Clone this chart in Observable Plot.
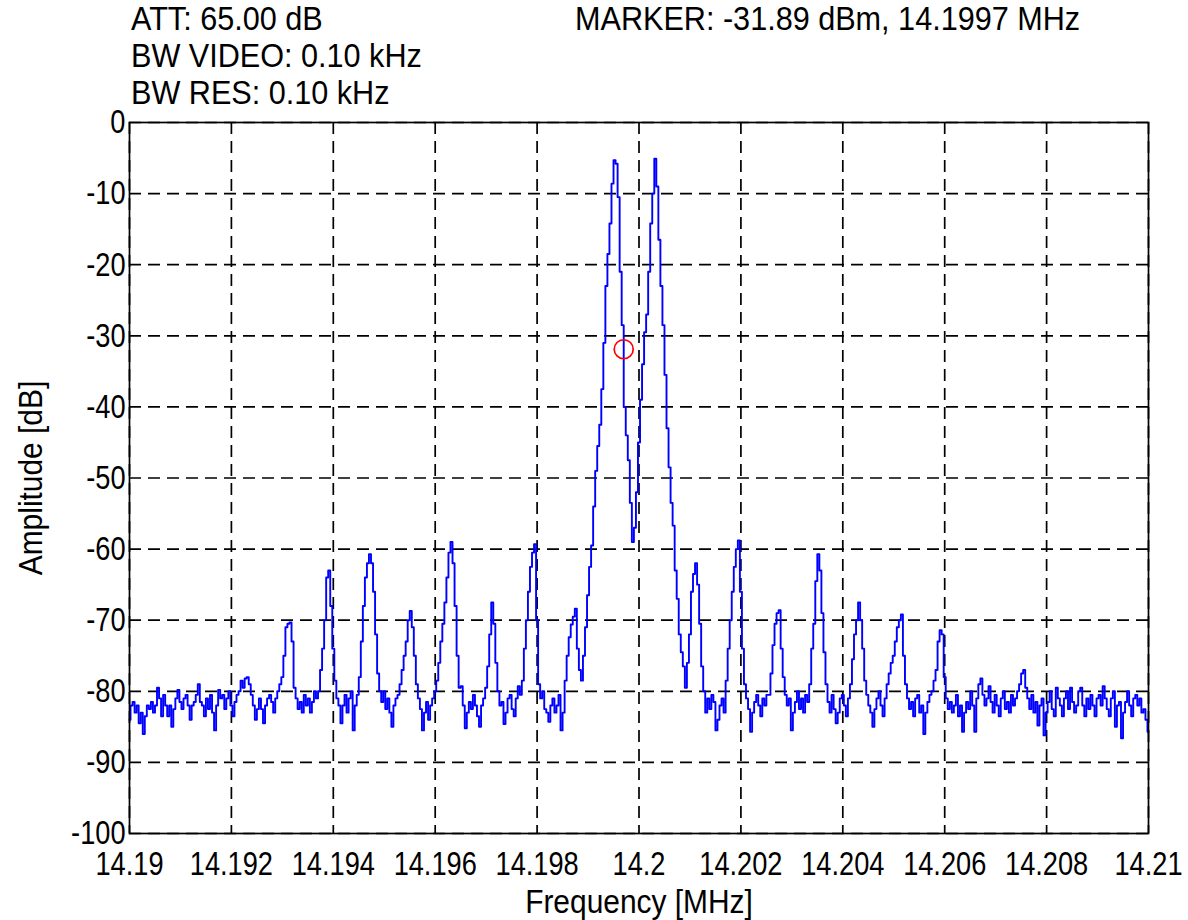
<!DOCTYPE html>
<html><head><meta charset="utf-8">
<script src="https://cdn.jsdelivr.net/npm/d3@7"></script>
<script src="https://cdn.jsdelivr.net/npm/@observablehq/plot@0.6"></script>
<style>
html,body{margin:0;padding:0;background:#fff;}
#wrap{position:relative;width:1188px;height:920px;overflow:hidden;font-family:'Liberation Sans',Arial,sans-serif;}
#chart{position:absolute;left:0;top:0;}
.hdr{position:absolute;font-size:34px;line-height:34px;color:#000;white-space:nowrap;transform:scaleX(0.9);transform-origin:0 0;}
</style></head><body>
<div id="wrap"><div id="chart"></div></div>
<script>
// ---- data ----
const headerLines = ["ATT: 65.00 dB", "BW VIDEO: 0.10 kHz", "BW RES: 0.10 kHz"];
const markerFreq = 14.1997;   // MHz
const markerAmp = -31.89;     // dBm
const xTicks = [14.19, 14.192, 14.194, 14.196, 14.198, 14.2, 14.202, 14.204, 14.206, 14.208, 14.21];
const yTicks = [-100, -90, -80, -70, -60, -50, -40, -30, -20, -10, 0];
const fStart = 14.19;   // MHz, first sample
const fStep = 0.00004;  // MHz between samples
const amplitudes = [
  -84, -82, -81.5, -83, -82, -84.5, -83, -86, -83.5, -82,
  -82.5, -81.5, -83, -82, -79.5, -81, -83.5, -80.5, -82, -83.5,
  -82, -85, -82.5, -81, -79.8, -81.5, -82.5, -81, -80.5, -82,
  -84, -82, -81.5, -80.5, -79, -81.5, -82, -83.5, -81, -82.5,
  -80.5, -83, -85.5, -82, -79.8, -81, -80.5, -82.5, -81, -80,
  -82, -83.5, -81.5, -80.5, -80, -78.5, -79.5, -78.2, -78, -79,
  -80.5, -82, -84, -82.5, -81, -82.5, -84.5, -82, -81, -80.5,
  -81.5, -83, -81, -80, -79, -78, -75, -71, -70.5, -70.3,
  -73, -79.5, -81, -82.5, -81.5, -83, -80.5, -82, -81, -83,
  -81.5, -80, -81, -80, -77, -74, -70, -64, -63, -68,
  -74, -78.5, -81, -82, -84.5, -82, -80.5, -83, -81, -80,
  -85.5, -82, -80.5, -78, -73, -68, -64, -62, -60.7, -62,
  -66, -72, -77.5, -80, -81.5, -80, -82.5, -81, -83, -85,
  -82, -81, -80.5, -79, -77, -75, -73, -70, -68.7, -71,
  -75, -79, -81, -82.5, -85.5, -83, -81.5, -84, -82, -81,
  -80, -78.5, -76, -73, -70.5, -67.5, -64, -60.5, -59, -62,
  -68, -75, -79.5, -79.3, -82, -85.2, -83, -81.5, -82.5, -80.5,
  -82, -83.5, -85, -82, -81, -79.5, -76.5, -72, -67.5, -70.5,
  -76, -80, -82, -81.5, -84.6, -83, -81, -80.5, -82.5, -83.5,
  -81, -79.3, -80.5, -78.5, -74, -70, -66, -62.5, -60.5, -59.3,
  -70, -79, -81, -80, -82.5, -83, -84.3, -82, -81, -83,
  -82, -80.5, -85.5, -83, -78.5, -75, -72.4, -70.6, -69.5, -68.4,
  -74, -77, -78.5, -75, -71, -66.5, -62.5, -59.5, -54, -49,
  -45.5, -42.5, -37.5, -31, -23, -18.5, -14.2, -8.6, -5.3, -5.8,
  -10.5, -21, -28.5, -40, -44, -47.5, -53.5, -59, -57, -52,
  -45, -39, -34, -29.5, -27, -21, -14.2, -10, -5.1, -9,
  -16.5, -23, -28.5, -35.5, -43, -48.5, -53.5, -56.7, -63, -67,
  -72, -74.5, -76.5, -79.5, -76, -72, -66, -63.5, -62, -65,
  -70.5, -76.5, -80, -83, -81, -82.5, -80.5, -81.5, -85.5, -84,
  -82, -81, -83, -78.5, -74, -70, -66, -62.5, -60, -58.8,
  -66, -74, -79, -81, -82.5, -85.7, -83, -81.5, -80.5, -82,
  -83.5, -81, -82, -80.5, -80.5, -77.5, -73.5, -70.5, -69, -68.6,
  -74, -78, -80.5, -82, -81, -85.5, -83, -81.5, -80, -82.5,
  -81, -83, -80.5, -81.5, -79, -74, -70.5, -64.5, -60.7, -63,
  -69, -74.5, -79, -81.5, -83, -80.5, -82.5, -84.5, -83, -81,
  -80.5, -82, -83.5, -81, -79, -75.5, -72, -70, -67.5, -70,
  -74, -78.5, -80.5, -82, -83, -85, -82.5, -81, -80, -82,
  -83.5, -81, -79, -77.5, -76, -75, -73, -71, -70, -69.2,
  -75, -79, -81, -82.5, -81.5, -83.5, -81, -80.5, -83, -82,
  -86, -83, -81.5, -80.5, -80, -78.5, -77, -73, -71.4, -72,
  -78, -81, -82.5, -81.5, -83, -82, -80.5, -83.5, -82, -85.7,
  -83, -81.5, -82.5, -80, -82, -85.7, -81, -79, -78.2, -80.5,
  -82, -81, -79.3, -81.5, -83, -80.5, -82, -83.5, -81, -80,
  -82.5, -81.5, -83, -80.5, -82, -81, -80, -79, -77.5, -77,
  -79.5, -81, -82.5, -80.5, -83, -81.5, -84.8, -82, -81, -86.2,
  -83, -81.5, -80, -82.5, -83.5, -79.5, -81, -82, -83.5, -81,
  -80, -82.5, -79.5, -81.5, -83, -82, -80, -79.5, -82, -83.5,
  -81, -82.5, -80.5, -82, -83.5, -81, -80.5, -82, -79.3, -81,
  -82.5, -83.5, -81, -80, -85, -82, -81.5, -86.6, -83, -81.5,
  -80, -82, -83.5, -81, -80.5, -82, -81, -83, -82.5, -84,
  -85.7
];

// ---- build ----
const spectrum = amplitudes.map((a, i) => ({f: fStart + i * fStep, a}));
const marker = [{f: markerFreq, a: markerAmp}];
const FONT = "'Liberation Sans',Arial,sans-serif";

const chart = Plot.plot({
  width: 1188,
  height: 920,
  marginTop: 122,
  marginLeft: 129,
  marginRight: 40,
  marginBottom: 87,
  style: {fontFamily: FONT, fontSize: "34px", background: "#fff", color: "#000", overflow: "visible"},
  x: {domain: [14.19, 14.21]},
  y: {domain: [-100, 0]},
  marks: [
    Plot.gridX(xTicks, {stroke: "#000", strokeOpacity: 1, strokeWidth: 1.7, strokeDasharray: "12,7"}),
    Plot.gridY(yTicks, {stroke: "#000", strokeOpacity: 1, strokeWidth: 1.7, strokeDasharray: "12,7"}),
    Plot.line(spectrum, {x: "f", y: "a", stroke: "#0000ff", strokeWidth: 1.9, curve: "step"}),
    Plot.dot(marker, {x: "f", y: "a", r: 9.5, stroke: "#ff0000", strokeWidth: 1.7, fill: "none"}),
    Plot.frame({stroke: "#000", strokeWidth: 1.7}),
    Plot.axisX({ticks: xTicks, tickFormat: d => String(+d.toFixed(3)), tickSize: 0, tickPadding: 17,
      fontSize: 34, label: "Frequency [MHz]", labelAnchor: "center", labelArrow: "none", labelOffset: 79}),
    Plot.axisY({ticks: yTicks, tickFormat: d => String(d), tickSize: 0, tickPadding: 4,
      fontSize: 34, label: "Amplitude [dB]", labelAnchor: "center", labelArrow: "none", labelOffset: 112})
  ]
});

// narrow the glyphs horizontally (reference uses a condensed face)
function narrow(el, sx) {
  const x = parseFloat(el.getAttribute("x")) || 0;
  const t = el.getAttribute("transform") || "";
  el.setAttribute("transform", `${t} translate(${x},0) scale(${sx},1) translate(${-x},0)`.trim());
}
chart.querySelectorAll('g[aria-label="x-axis tick label"] text, g[aria-label="y-axis tick label"] text')
  .forEach(el => narrow(el, 0.8));
chart.querySelectorAll('g[aria-label="x-axis label"] text, g[aria-label="y-axis label"] text')
  .forEach(el => narrow(el, 0.88));

const wrap = document.getElementById("wrap");
document.getElementById("chart").appendChild(chart);

// header annotations
const tops = [1, 38, 75];
headerLines.forEach((t, i) => {
  const d = document.createElement("div");
  d.className = "hdr"; d.textContent = t;
  d.style.left = "131px"; d.style.top = tops[i] + "px";
  wrap.appendChild(d);
});
const m = document.createElement("div");
m.className = "hdr";
m.textContent = `MARKER: ${markerAmp.toFixed(2)} dBm, ${markerFreq} MHz`;
m.style.left = "575px"; m.style.top = "1px";
wrap.appendChild(m);
</script>
</body></html>
